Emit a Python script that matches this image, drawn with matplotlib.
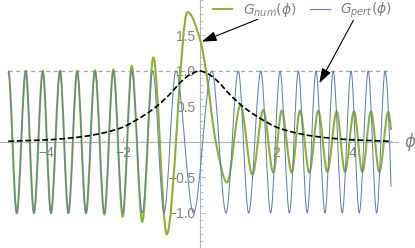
import numpy as np
import matplotlib
matplotlib.use('Agg')
import matplotlib.pyplot as plt
from matplotlib.path import Path
from matplotlib.patches import PathPatch
from matplotlib.lines import Line2D
from matplotlib.ticker import MultipleLocator

# extrema of G_pert (phi, value)
pert_phi = [-5.0, -4.78, -4.545, -4.33, -4.10, -3.885, -3.65, -3.43, -3.20, -2.97,
            -2.735, -2.49, -2.255, -2.01, -1.775, -1.50, -1.225, -0.93, -0.62, -0.16,
            0.32, 0.69, 1.01, 1.28, 1.60, 1.855, 2.10, 2.345, 2.58, 2.81,
            3.04, 3.275, 3.49, 3.725, 3.955, 4.17, 4.405, 4.625, 4.845, 5.0]
pert_val = [1, -1, 1, -1, 1, -1, 1, -1, 1, -1,
            1, -1, 1, -1, 1, -1, 1, -1, 1, -1,
            1, -1, 1, -1, 1, -1, 1, -1, 1, -1,
            1, -1, 1, -1, 1, -1, 1, -1, 1, -0.63]

# G_num: extrema plus a few points on the big drop after the main peak
num_phi = [-5.0, -4.78, -4.545, -4.33, -4.10, -3.885, -3.65, -3.43, -3.20, -2.97,
           -2.735, -2.49, -2.255, -2.01, -1.775, -1.50, -1.21, -0.86, -0.317, 0.027,
           0.166, 0.422, 0.715, 1.067, 1.376, 1.663, 1.924, 2.144, 2.405, 2.622,
           2.865, 3.10, 3.335, 3.58, 3.798, 4.033, 4.25, 4.477, 4.694, 4.93, 5.0]
num_val = [1.0, -1.0, 1.0, -1.0, 1.0, -1.0, 1.0, -1.0, 1.0, -1.0,
           1.01, -1.02, 1.02, -1.05, 1.07, -1.12, 1.19, -1.30, 1.83, 1.41,
           1.0, 0.0, -0.57, 0.52, -0.46, 0.45, -0.43, 0.44, -0.43, 0.44,
           -0.43, 0.44, -0.42, 0.43, -0.42, 0.43, -0.42, 0.43, -0.42, 0.42, 0.17]

# black dashed envelope
env_phi = [-5, -4.5, -4, -3.5, -3, -2.5, -2, -1.75, -1.5, -1.25, -1, -0.75, -0.5, -0.25,
           0, 0.25, 0.5, 0.75, 1, 1.25, 1.5, 1.75, 2, 2.5, 3, 3.5, 4, 4.5, 5]
env_val = [0.01, 0.02, 0.03, 0.05, 0.08, 0.13, 0.21, 0.28, 0.36, 0.45, 0.56, 0.69, 0.84, 0.95,
           1.0, 0.95, 0.84, 0.69, 0.56, 0.45, 0.36, 0.28, 0.21, 0.13, 0.08, 0.05, 0.03, 0.02, 0.01]

ref_level = 1.0
phi_range = [-5.0, 5.0]

legend_labels = [r'$G_{num}(\phi)$', r'$G_{pert}(\phi)$']
x_ticks = [-4, -2, 2, 4]
y_ticks = [-1.0, -0.5, 0.5, 1.0, 1.5]

green = '#8fb032'
blue = '#5e81b5'
grey_txt = '#808080'
grey_ax = '#b5b5b5'

plt.rcParams['font.family'] = ['Liberation Sans', 'DejaVu Sans']
plt.rcParams['mathtext.fontset'] = 'dejavusans'


def smooth_path(xs, ys, flat_start=True):
    # cubic bezier through the read points, flat at turning points
    xs = np.asarray(xs, float)
    ys = np.asarray(ys, float)
    h = np.diff(xs)
    d = np.diff(ys) / h
    m = np.zeros(len(xs))
    for i in range(1, len(xs) - 1):
        if d[i - 1] * d[i] > 0:
            w1 = 2 * h[i] + h[i - 1]
            w2 = h[i] + 2 * h[i - 1]
            m[i] = (w1 + w2) / (w1 / d[i - 1] + w2 / d[i])
    m[0] = 0 if flat_start else d[0]
    m[-1] = ((2 * h[-1] + h[-2]) * d[-1] - h[-1] * d[-2]) / (h[-1] + h[-2])
    if np.sign(m[-1]) != np.sign(d[-1]):
        m[-1] = 0
    verts = [(xs[0], ys[0])]
    for i in range(len(h)):
        verts.append((xs[i] + h[i] / 3, ys[i] + m[i] * h[i] / 3))
        verts.append((xs[i + 1] - h[i] / 3, ys[i + 1] - m[i + 1] * h[i] / 3))
        verts.append((xs[i + 1], ys[i + 1]))
    codes = [Path.MOVETO] + [Path.CURVE4] * (3 * len(h))
    return Path(verts, codes)


fig = plt.figure(figsize=(4.15, 2.48), dpi=100)
ax = fig.add_axes([0, 0, 1, 1])
ax.set_xlim(-5.217, 5.627)
ax.set_ylim(-1.493, 2.0)

ax.plot(phi_range, [ref_level, ref_level], color='#a8a8a8', lw=0.9,
        ls=(0, (3.5, 2.5)), zorder=1)

ax.add_patch(PathPatch(smooth_path(num_phi, num_val), fill=False, ec=green, lw=1.5, zorder=2))
ax.add_patch(PathPatch(smooth_path(pert_phi, pert_val), fill=False, ec=blue, lw=0.75, zorder=3))
ax.add_patch(PathPatch(smooth_path(env_phi, env_val, flat_start=False), fill=False,
                       ec='black', lw=1.2, ls=(0, (3.5, 1.6)), zorder=4))

# axes through the origin
for s in ['top', 'right']:
    ax.spines[s].set_visible(False)
ax.spines['left'].set_position(('data', 0))
ax.spines['bottom'].set_position(('data', 0))
ax.spines['bottom'].set_bounds(-5.217, 5.19)
for s in ['left', 'bottom']:
    ax.spines[s].set_color(grey_ax)
    ax.spines[s].set_linewidth(0.8)
    ax.spines[s].set_zorder(0.5)
ax.set_axisbelow(True)

ax.set_xticks(x_ticks)
ax.set_yticks(y_ticks)
ax.xaxis.set_minor_locator(MultipleLocator(0.5))
ax.yaxis.set_minor_locator(MultipleLocator(0.1))
ax.tick_params(which='both', direction='in', color=grey_ax, width=0.6,
               labelsize=10, labelcolor=grey_txt, pad=3)
ax.tick_params(which='major', length=3.5)
ax.tick_params(which='minor', length=1.8)

ax.text(5.50, 0, r'$\phi$', fontsize=12, color=grey_txt, ha='center', va='center')

handles = [Line2D([], [], color=green, lw=1.5), Line2D([], [], color=blue, lw=0.8)]
ax.legend(handles, legend_labels, ncol=2, loc='upper left',
          bbox_to_anchor=(213 / 415, 1 - 1 / 248), bbox_transform=fig.transFigure,
          frameon=False, borderpad=0, borderaxespad=0, handlelength=1.4,
          handletextpad=0.75, columnspacing=1.0, fontsize=10, labelcolor=grey_txt)

arrow = dict(arrowstyle='-|>,head_length=0.9,head_width=0.3', color='black', lw=0.8,
             shrinkA=0, shrinkB=0)
ax.annotate('', xy=(0.054, 1.413), xytext=(1.517, 1.728), arrowprops=arrow, zorder=5)
ax.annotate('', xy=(3.127, 0.827), xytext=(4.015, 1.711), arrowprops=arrow, zorder=5)

fig.savefig('out.png', dpi=100)
